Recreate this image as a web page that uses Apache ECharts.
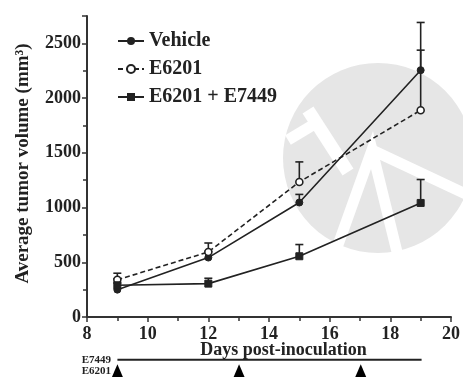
<!DOCTYPE html>
<html>
<head>
<meta charset="utf-8">
<script src="https://cdn.jsdelivr.net/npm/echarts@6/dist/echarts.min.js"></script>
<style>
  html, body { margin: 0; padding: 0; background: #fff; }
  #chart { width: 463px; height: 377px; }
</style>
</head>
<body>
<div id="chart"></div>
<script>
// days measured
const days = [9, 12, 15, 19]
// mean tumour volume (mm3)
const vehicle = [250, 543, 1046, 2255]
const e6201 = [340, 594, 1234, 1889]
const combo = [290, 305, 555, 1042]
// top of error bar (mean + SEM)
const vehicleTop = [310, 600, 1120, 2691]
const e6201Top = [400, 676, 1417, 2438]
const comboTop = [350, 354, 662, 1256]
// dosing schedule
const e7449Days = [9, 19]
const e6201DoseDays = [9, 13, 17]
const scheduleRows = ['E6201', 'E7449']

const ink = '#222'
const serif = 'Liberation Serif, Times New Roman, serif'

function pts(vals) {
  return days.map((d, i) => [d, vals[i]])
}
function errs(vals, tops) {
  return days.map((d, i) => [d, vals[i], tops[i]])
}

function errorBar(params, api) {
  const lo = api.coord([api.value(0), api.value(1)])
  const hi = api.coord([api.value(0), api.value(2)])
  const style = { stroke: ink, lineWidth: 1.6 }
  return {
    type: 'group',
    children: [
      { type: 'line', shape: { x1: lo[0], y1: lo[1], x2: hi[0], y2: hi[1] }, style },
      { type: 'line', shape: { x1: hi[0] - 4, y1: hi[1], x2: hi[0] + 4, y2: hi[1] }, style }
    ]
  }
}

const chart = echarts.init(document.getElementById('chart'))

const option = {
  animation: false,
  textStyle: { fontFamily: serif },
  // background logo watermark
  graphic: [
    { type: 'circle', z: -10, shape: { cx: 378, cy: 158, r: 95 }, style: { fill: '#e6e6e6' } },
    { type: 'polyline', z: -9, shape: { points: [[334, 256], [372, 150], [398, 256]] }, style: { stroke: '#fff', lineWidth: 11, fill: null } },
    { type: 'line', z: -9, shape: { x1: 372, y1: 150, x2: 472, y2: 197 }, style: { stroke: '#fff', lineWidth: 11 } },
    { type: 'line', z: -9, shape: { x1: 308, y1: 110, x2: 348, y2: 172 }, style: { stroke: '#fff', lineWidth: 13 } },
    { type: 'line', z: -9, shape: { x1: 288, y1: 140, x2: 318, y2: 122 }, style: { stroke: '#fff', lineWidth: 11 } }
  ],
  legend: {
    orient: 'vertical',
    left: 112,
    top: 26,
    itemGap: 8,
    itemWidth: 26,
    itemHeight: 10,
    data: ['Vehicle', 'E6201', 'E6201 + E7449'],
    textStyle: { fontFamily: serif, fontWeight: 'bold', fontSize: 20, color: ink }
  },
  grid: [
    { left: 87, right: 11, top: 16, bottom: 60 },
    { left: 87, right: 11, top: 354, height: 24 }
  ],
  xAxis: [
    {
      gridIndex: 0,
      type: 'value',
      min: 8,
      max: 20,
      interval: 2,
      name: 'Days post-inoculation',
      nameLocation: 'middle',
      nameGap: 24,
      nameMoveOverlap: false,
      nameTextStyle: { fontFamily: serif, fontWeight: 'bold', fontSize: 18, color: ink, padding: [0, 0, 0, 29] },
      axisLine: { lineStyle: { color: '#333', width: 2 } },
      axisTick: { length: 5, lineStyle: { color: '#333', width: 1.5 } },
      minorTick: { show: true, splitNumber: 2, length: 4, lineStyle: { color: '#333', width: 1.5 } },
      splitLine: { show: false },
      axisLabel: { fontFamily: serif, fontWeight: 'bold', fontSize: 18, color: ink, margin: 8 }
    },
    {
      gridIndex: 1,
      type: 'value',
      min: 8,
      max: 20,
      show: false
    }
  ],
  yAxis: [
    {
      gridIndex: 0,
      type: 'value',
      min: 0,
      max: 2750,
      interval: 500,
      name: 'Average tumor volume (mm³)',
      nameLocation: 'middle',
      nameGap: 54,
      nameMoveOverlap: false,
      nameTextStyle: { fontFamily: serif, fontWeight: 'bold', fontSize: 19, color: ink, padding: [0, 0, 0, 6] },
      axisLine: { show: true, lineStyle: { color: '#333', width: 2 } },
      axisTick: { show: true, length: 5, lineStyle: { color: '#333', width: 1.5 } },
      minorTick: { show: true, splitNumber: 2, length: 4, lineStyle: { color: '#333', width: 1.5 } },
      splitLine: { show: false },
      axisLabel: {
        fontFamily: serif, fontWeight: 'bold', fontSize: 18, color: ink, margin: 6,
        formatter: (v) => (v % 500 === 0 ? String(v) : '')
      }
    },
    {
      gridIndex: 1,
      type: 'category',
      data: scheduleRows,
      axisLine: { show: false },
      axisTick: { show: false },
      axisLabel: { interval: 0, fontFamily: serif, fontWeight: 'bold', fontSize: 11, color: ink, margin: -24 }
    }
  ],
  series: [
    {
      name: 'Vehicle', type: 'line', data: pts(vehicle), z: 4,
      symbol: 'circle', symbolSize: 7,
      itemStyle: { color: ink, borderColor: ink },
      lineStyle: { color: ink, width: 1.6 }
    },
    {
      name: 'E6201', type: 'line', data: pts(e6201), z: 4,
      symbol: 'circle', symbolSize: 7,
      itemStyle: { color: '#fff', borderColor: ink, borderWidth: 1.6 },
      lineStyle: { color: ink, width: 1.6, type: [5, 3] }
    },
    {
      name: 'E6201 + E7449', type: 'line', data: pts(combo), z: 4,
      symbol: 'rect', symbolSize: 7,
      itemStyle: { color: ink, borderColor: ink },
      lineStyle: { color: ink, width: 1.6 }
    },
    { type: 'custom', renderItem: errorBar, data: errs(vehicle, vehicleTop), z: 3 },
    { type: 'custom', renderItem: errorBar, data: errs(e6201, e6201Top), z: 3 },
    { type: 'custom', renderItem: errorBar, data: errs(combo, comboTop), z: 3 },
    {
      type: 'line', xAxisIndex: 1, yAxisIndex: 1,
      data: e7449Days.map((d) => [d, 'E7449']),
      symbol: 'none',
      lineStyle: { color: ink, width: 2 }
    },
    {
      type: 'scatter', xAxisIndex: 1, yAxisIndex: 1,
      data: e6201DoseDays.map((d) => [d, 'E6201']),
      symbol: 'triangle', symbolSize: [12, 14],
      itemStyle: { color: '#000', opacity: 1 }
    }
  ]
}

chart.setOption(option)
</script>
</body>
</html>
